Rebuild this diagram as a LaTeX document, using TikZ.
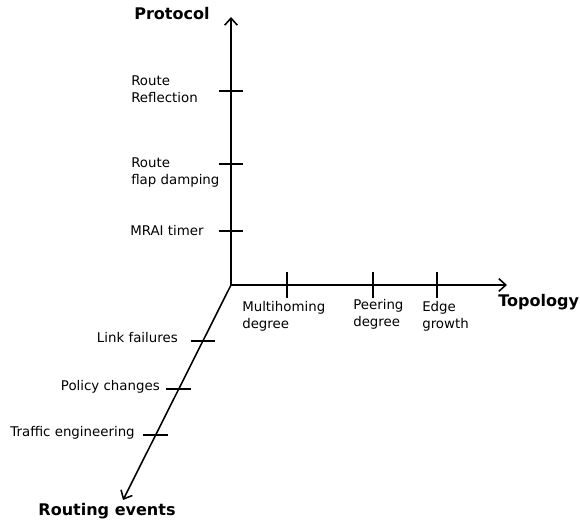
\documentclass[tikz,border=0pt]{standalone}
\usepackage{fontspec}
\setmainfont{DejaVu Sans}
\usetikzlibrary{arrows.meta,calc}
\begin{document}
\begin{tikzpicture}[font=\fontsize{9.5}{12}\selectfont,
axe/.style={-{Straight Barb[length=5pt,width=9pt]},line width=1.1pt},
graduation/.style={line width=1.1pt},
etiquette/.style={inner sep=0pt,align=left},
titre/.style={inner sep=0pt,font=\fontsize{11.4}{14}\selectfont\bfseries}]
\useasboundingbox (-5.775,-5.925) rectangle (8.725,7.125);
% axes
\coordinate (origine) at (0,0);
\coordinate (protocole) at (0,6.7);
\coordinate (topologie) at (6.9,0);
\coordinate (evenements) at (-2.7,-5.375);
\draw[axe] (origine) -- (protocole);
\draw[axe] (origine) -- (topologie);
\draw[axe] (origine) -- (evenements);
\node[titre] (tprotocole) at (-1.475,6.775) {Protocol};
\node[titre,anchor=west] (ttopologie) at (6.675,-0.42) {Topology};
\node[titre] (tevenements) at (-3.1,-5.66) {Routing events};
% graduations
\foreach \nom/\y in {reflexion/4.85,amortissement/3.025,mrai/1.35}
  \draw[graduation] (-0.31,\y) -- (0.31,\y) coordinate (g\nom);
\foreach \nom/\x in {multi/1.4,appairage/3.55,croissance/5.15}
  \draw[graduation] (\x,0.325) -- (\x,-0.325) coordinate (g\nom);
\foreach \nom/\p in {pannes/0.26,politiques/0.484,ingenierie/0.698}
  \draw[graduation] ($(origine)!\p!(evenements)+(-0.31,0)$) -- ++(0.62,0) coordinate (g\nom);
% libelles
\node[etiquette,anchor=west] (reflexion) at (-2.5,4.9) {Route\\Reflection};
\node[etiquette,anchor=west] (amortissement) at (-2.5,2.82) {Route\\flap damping};
\node[etiquette,anchor=west] (mrai) at (-2.525,1.36) {MRAI timer};
\node[etiquette,anchor=west] (multi) at (0.275,-0.78) {Multihoming\\degree};
\node[etiquette,anchor=west] (appairage) at (3.05,-0.73) {Peering\\degree};
\node[etiquette,anchor=west] (croissance) at (4.775,-0.78) {Edge\\growth};
\node[etiquette,anchor=east] (pannes) at (-1.325,-1.315) {Link failures};
\node[etiquette,anchor=east] (politiques) at (-1.775,-2.54) {Policy changes};
\node[etiquette,anchor=east] (ingenierie) at (-2.4,-3.69) {Traffic engineering};
\end{tikzpicture}
\end{document}
